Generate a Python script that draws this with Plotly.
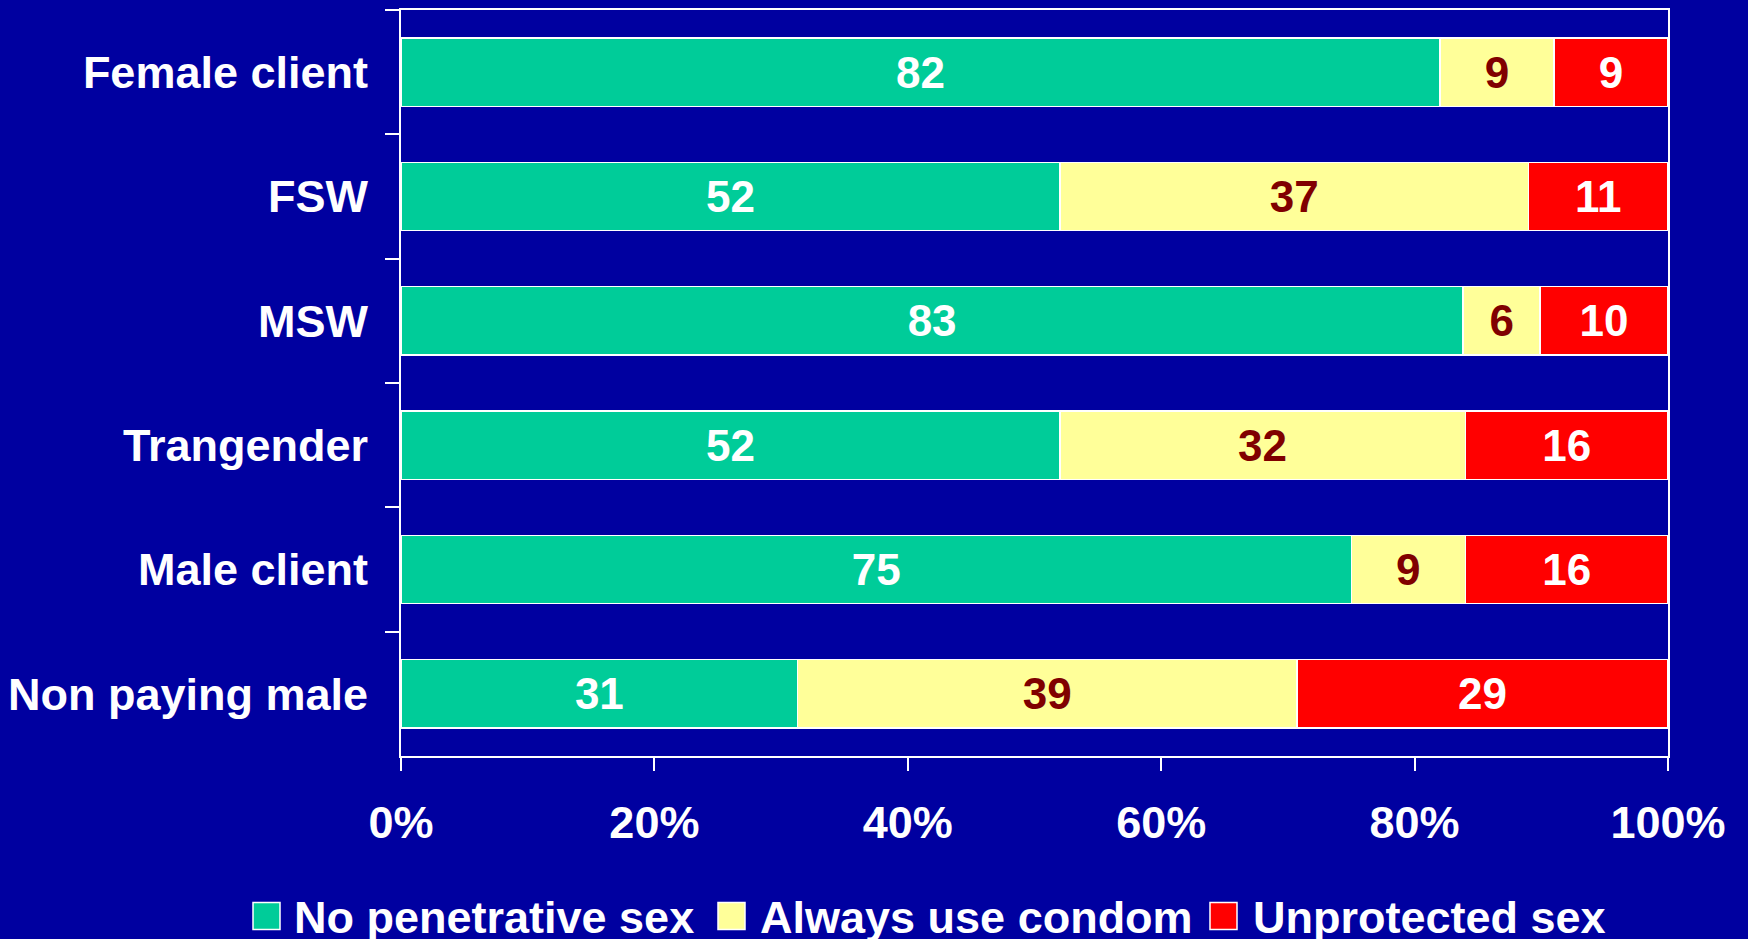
import plotly.graph_objects as go

# data
groups = ["Female client", "FSW", "MSW", "Trangender", "Male client", "Non paying male"]
no_penetrative = [82, 52, 83, 52, 75, 31]
always_condom = [9, 37, 6, 32, 9, 39]
unprotected = [9, 11, 10, 16, 16, 29]
series_names = ["No penetrative sex", "Always use condom", "Unprotected sex"]
x_ticks = [0, 20, 40, 60, 80, 100]
x_tick_labels = ["0%", "20%", "40%", "60%", "80%", "100%"]

BG = "#0000A0"
GREEN = "#00CC99"
YELLOW = "#FFFF99"
RED = "#FF0000"
MAROON = "#800000"
FONT = "Liberation Sans, Arial, sans-serif"

# page + plot area in px
W, H = 1748, 939
L, R, T, B = 401, 80, 8, 183
PW, PH = W - L - R, H - T - B


def px_x(px):
    return (px - L) / PW


def px_y(py):
    return (H - B - py) / PH


series = [
    (series_names[0], no_penetrative, GREEN, "white"),
    (series_names[1], always_condom, YELLOW, MAROON),
    (series_names[2], unprotected, RED, "white"),
]

fig = go.Figure()
for name, vals, col, tcol in series:
    fig.add_bar(
        y=groups, x=vals,
        name=name,
        orientation="h",
        marker=dict(color=col, line=dict(color="white", width=1.5)),
        text=vals,
        texttemplate="%{text}",
        textposition="inside",
        insidetextanchor="middle",
        textangle=0,
        textfont=dict(color=tcol, size=44, family=FONT, weight="bold"),
        showlegend=False,
    )

# hand-made legend (reference uses big boxed swatches)
legend_box_x = [253, 718, 1210]
legend_text_x = [292, 758, 1251]
shapes, annos = [], []
for i, (name, _, col, _) in enumerate(series):
    shapes.append(dict(
        type="rect", xref="paper", yref="paper",
        x0=px_x(legend_box_x[i]), x1=px_x(legend_box_x[i] + 27),
        y0=px_y(930), y1=px_y(903),
        fillcolor=col, line=dict(color="white", width=1.5),
    ))
    annos.append(dict(
        text=name, xref="paper", yref="paper",
        x=px_x(legend_text_x[i]), y=px_y(918),
        xanchor="left", yanchor="middle", showarrow=False,
        font=dict(size=45, color="white", family=FONT, weight="bold"),
    ))

fig.update_layout(
    barmode="stack",
    barnorm="percent",
    bargap=0.45,
    width=W, height=H,
    paper_bgcolor=BG,
    plot_bgcolor=BG,
    font=dict(family=FONT, color="white", size=42, weight="bold"),
    margin=dict(l=L, r=R, t=T, b=B, pad=0),
    xaxis=dict(
        range=[0, 100],
        tickvals=x_ticks, ticktext=x_tick_labels,
        showgrid=False, zeroline=False,
        showline=True, linecolor="white", linewidth=2, mirror=True,
        ticks="outside", ticklen=13, tickwidth=2, tickcolor="white",
        ticklabelstandoff=13,
        tickfont=dict(size=45, color="white", family=FONT, weight="bold"),
    ),
    yaxis=dict(
        autorange="reversed",
        showgrid=False, zeroline=False,
        showline=True, linecolor="white", linewidth=2, mirror=True,
        ticks="outside", tickson="boundaries", ticklen=14, tickwidth=2, tickcolor="white",
        ticklabelstandoff=22,
        tickfont=dict(size=45, color="white", family=FONT, weight="bold"),
    ),
    shapes=shapes,
    annotations=annos,
    showlegend=False,
)

fig.write_html(
    "out.html",
    config={"displayModeBar": False},
    post_script="document.body.style.margin='0';document.body.style.background='%s';" % BG,
)
